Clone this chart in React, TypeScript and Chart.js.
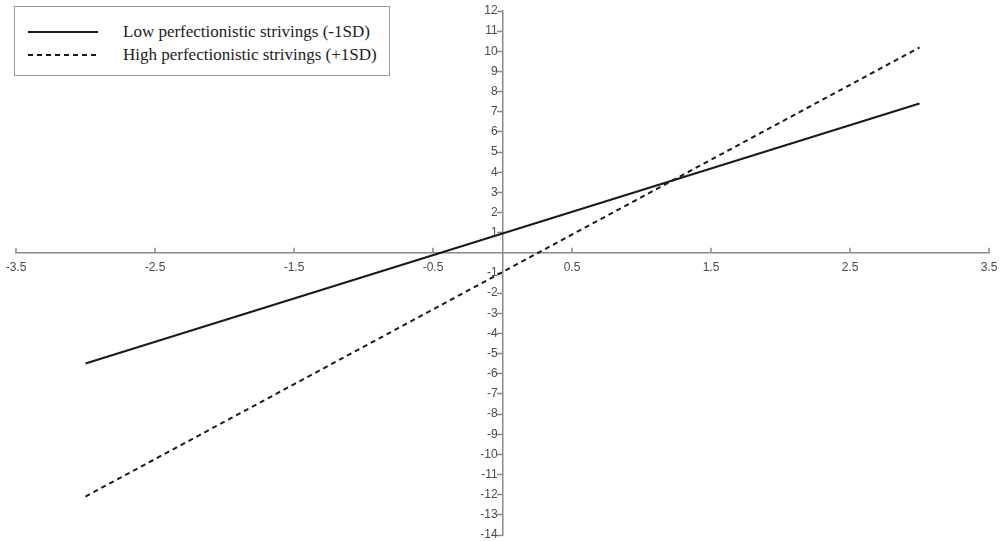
import React, { useEffect, useRef } from "react";
import { Chart, registerables } from "chart.js";

Chart.register(...registerables);

const xValues = [-3, 3];
const lowValues = [-5.49, 7.41];
const highValues = [-12.09, 10.19];
const seriesLabels = [
  "Low perfectionistic strivings (-1SD)",
  "High perfectionistic strivings (+1SD)",
];
const seriesDashes: number[][] = [[], [5, 4]];
const xTickValues = [-3.5, -2.5, -1.5, -0.5, 0.5, 1.5, 2.5, 3.5];
const yTickValues = [
  -14, -13, -12, -11, -10, -9, -8, -7, -6, -5, -4, -3, -2, -1, 1, 2, 3, 4, 5,
  6, 7, 8, 9, 10, 11, 12,
];

const AXIS_COLOR = "#8a8a8a";
const TICK_FONT = { family: "'Liberation Sans', Arial, sans-serif", size: 12 };

const zeroPad = (s: any) => {
  s.paddingLeft = 0;
  s.paddingRight = 0;
  s.paddingTop = 0;
  s.paddingBottom = 0;
};

const upTicks = {
  id: "upTicks",
  afterDraw(chart: any) {
    const xs = chart.scales.x;
    const ys = chart.scales.y;
    const y0 = ys.getPixelForValue(0);
    const ctx = chart.ctx;
    ctx.save();
    ctx.strokeStyle = AXIS_COLOR;
    ctx.lineWidth = 1.5;
    xTickValues.forEach((v) => {
      const px = xs.getPixelForValue(v);
      ctx.beginPath();
      ctx.moveTo(px, y0);
      ctx.lineTo(px, y0 - 5);
      ctx.stroke();
    });
    ctx.restore();
  },
};

export default function App() {
  const canvasRef = useRef<HTMLCanvasElement | null>(null);

  useEffect(() => {
    document.body.style.margin = "0";
    const toPts = (ys: number[]) => xValues.map((x, i) => ({ x, y: ys[i] }));
    const chart = new Chart(canvasRef.current as HTMLCanvasElement, {
      type: "scatter",
      data: {
        datasets: [
          {
            label: seriesLabels[0],
            data: toPts(lowValues),
            showLine: true,
            borderColor: "#1a1a1a",
            borderWidth: 2,
            borderDash: seriesDashes[0],
            pointRadius: 0,
          },
          {
            label: seriesLabels[1],
            data: toPts(highValues),
            showLine: true,
            borderColor: "#1a1a1a",
            borderWidth: 2,
            borderDash: seriesDashes[1],
            pointRadius: 0,
          },
        ],
      },
      options: {
        responsive: false,
        animation: false,
        layout: { padding: { left: 16, right: 12, top: 11, bottom: 6 } },
        plugins: { legend: { display: false }, tooltip: { enabled: false } },
        scales: {
          x: {
            type: "linear",
            min: -3.5,
            max: 3.5,
            position: { y: 0 } as any,
            afterBuildTicks: (s: any) => {
              s.ticks = xTickValues.map((v) => ({ value: v }));
            },
            afterFit: zeroPad,
            ticks: {
              font: TICK_FONT,
              color: "#4a4a4a",
              padding: 8,
              maxRotation: 0,
              autoSkip: false,
              callback: (v: any) => String(v),
            },
            grid: { drawOnChartArea: false, drawTicks: false },
            border: { color: AXIS_COLOR, width: 1.5 },
          },
          y: {
            type: "linear",
            min: -14,
            max: 12,
            position: { x: 0 } as any,
            afterBuildTicks: (s: any) => {
              s.ticks = yTickValues.map((v) => ({ value: v }));
            },
            afterFit: zeroPad,
            ticks: {
              font: TICK_FONT,
              color: "#4a4a4a",
              padding: 1,
              autoSkip: false,
              callback: (v: any) => String(v) + "\u2009\u2009",
            },
            grid: {
              drawOnChartArea: false,
              drawTicks: true,
              tickLength: 5,
              tickColor: AXIS_COLOR,
              tickWidth: 1.5,
            },
            border: { color: AXIS_COLOR, width: 1.5 },
          },
        },
      },
      plugins: [upTicks],
    });
    return () => chart.destroy();
  }, []);

  return (
    <div style={{ position: "relative", width: 1001, height: 541 }}>
      <canvas ref={canvasRef} width={1001} height={541} />
      <div
        style={{
          position: "absolute",
          left: 14,
          top: 6,
          width: 376,
          height: 70,
          border: "1px solid #9a9a9a",
          background: "#fff",
          fontFamily: "'Liberation Serif', 'Times New Roman', serif",
          fontSize: 17,
          color: "#222",
          boxSizing: "border-box",
        }}
      >
        {seriesLabels.map((lab, i) => (
          <div
            key={lab}
            style={{
              position: "absolute",
              left: 0,
              top: 15 + i * 23,
              height: 20,
              display: "flex",
              alignItems: "center",
              whiteSpace: "nowrap",
            }}
          >
            <svg width={100} height={20} style={{ display: "block" }}>
              <line
                x1={13}
                x2={83}
                y1={10}
                y2={10}
                stroke="#1a1a1a"
                strokeWidth={2}
                strokeDasharray={seriesDashes[i].length ? seriesDashes[i].join(",") : undefined}
              />
            </svg>
            <span style={{ marginLeft: 8 }}>{lab}</span>
          </div>
        ))}
      </div>
    </div>
  );
}
